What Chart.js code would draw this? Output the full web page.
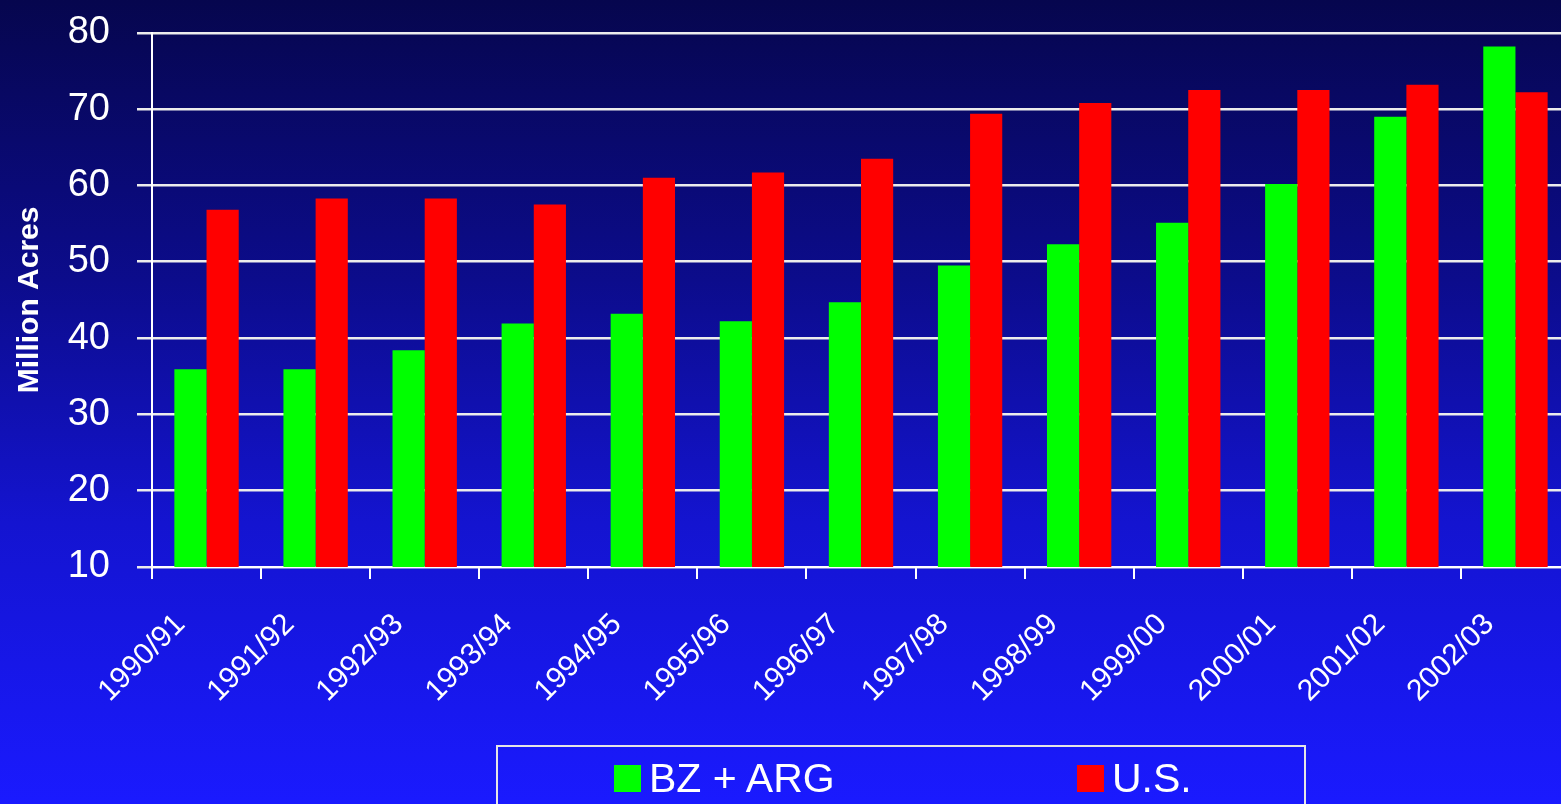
<!DOCTYPE html>
<html lang="en">
<head>
    <meta charset="UTF-8">
    <title>Million Acres</title>
    <script src="https://cdn.jsdelivr.net/npm/chart.js"></script>
    <style>
        html, body { margin: 0; padding: 0; }
        body {
            width: 1561px;
            height: 804px;
            overflow: hidden;
            background: linear-gradient(to bottom, #06064e 0%, #0c0c8c 35%, #1414d0 65%, #1a1aff 100%);
            font-family: "Liberation Sans", Arial, sans-serif;
            position: relative;
        }
        #wrap { position: absolute; left: 0; top: 0; width: 1561px; height: 804px; overflow: hidden; }
        #grafico { position: absolute; left: 0; top: -17px; }
        #legenda {
            position: absolute;
            left: 496px;
            top: 745px;
            width: 806px;
            height: 80px;
            border: 2px solid #e6e6e6;
        }
        .item { position: absolute; top: 16px; height: 30px; display: flex; align-items: center; color: #fff; font-size: 41px; }
        .item span.cor { display: inline-block; width: 27px; height: 27px; margin-right: 8px; }
    </style>
</head>
<body>
    <div id="wrap">
        <canvas id="grafico" width="1576" height="821"></canvas>
    </div>
    <div id="legenda"></div>

    <script>
        // safras
        const safras = ['1990/91', '1991/92', '1992/93', '1993/94', '1994/95', '1995/96', '1996/97',
            '1997/98', '1998/99', '1999/00', '2000/01', '2001/02', '2002/03'];
        // milhoes de acres
        const bzArg = [35.9, 35.9, 38.4, 41.9, 43.2, 42.2, 44.7, 49.5, 52.3, 55.1, 60.2, 69.0, 78.2];
        const us = [56.8, 58.3, 58.3, 57.5, 61.0, 61.7, 63.5, 69.4, 70.8, 72.5, 72.5, 73.2, 72.2];
        const nomes = ['BZ + ARG', 'U.S.'];
        const cores = ['#00ff00', '#ff0000'];
        const yMin = 10, yMax = 80, yPasso = 10;

        const ctx = document.getElementById('grafico');
        new Chart(ctx, {
            type: 'bar',
            data: {
                labels: safras,
                datasets: [
                    { label: nomes[0], data: bzArg, backgroundColor: cores[0], categoryPercentage: 0.59, barPercentage: 1.0 },
                    { label: nomes[1], data: us, backgroundColor: cores[1], categoryPercentage: 0.59, barPercentage: 1.0 }
                ]
            },
            options: {
                responsive: false,
                animation: false,
                layout: { padding: { top: 16, right: 6, bottom: 87, left: 0 } },
                plugins: { legend: { display: false }, tooltip: { enabled: false } },
                scales: {
                    x: {
                        offset: true,
                        grid: { display: true, drawOnChartArea: false, offset: true, tickLength: 12, color: '#ffffff', lineWidth: 2 },
                        border: { color: '#ffffff', width: 2 },
                        ticks: {
                            color: '#ffffff', minRotation: 45, maxRotation: 45, padding: 28, labelOffset: -26,
                            font: { family: 'Liberation Sans', size: 30 }
                        },
                        afterFit: function (scale) { scale.height = 150; }
                    },
                    y: {
                        min: yMin,
                        max: yMax,
                        ticks: {
                            stepSize: yPasso, color: '#ffffff', padding: 27,
                            font: { family: 'Liberation Sans', size: 38 }
                        },
                        grid: { color: '#ececec', lineWidth: 2.5, tickLength: 15 },
                        border: { color: '#ffffff', width: 2 },
                        title: {
                            display: true, text: 'Million Acres', color: '#ffffff',
                            padding: { top: 12, bottom: 0 },
                            font: { family: 'Liberation Sans', size: 30, weight: 'bold' }
                        },
                        afterFit: function (scale) { scale.width = 152; }
                    }
                }
            }
        });

        // legenda com caixa
        const leg = document.getElementById('legenda');
        const posicoes = [116, 579];
        nomes.forEach(function (nome, i) {
            const d = document.createElement('div');
            d.className = 'item';
            d.style.left = posicoes[i] + 'px';
            d.innerHTML = '<span class="cor" style="background:' + cores[i] + '"></span>' + nome;
            leg.appendChild(d);
        });
    </script>
</body>
</html>
